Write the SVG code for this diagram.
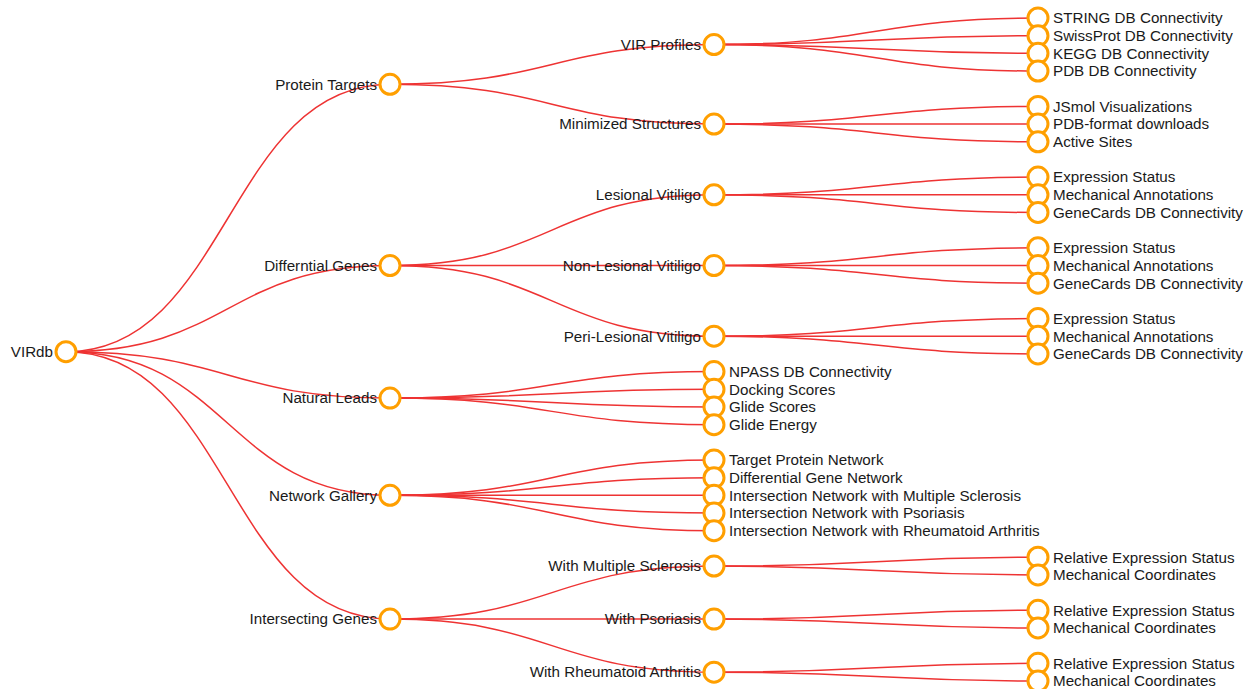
<svg xmlns="http://www.w3.org/2000/svg" width="1249" height="689" viewBox="0 0 1249 689">
<style>
.link{fill:none;stroke:#ee3333;stroke-width:1.5}
.node circle{fill:#fff;stroke:#ff9f00;stroke-width:3}
.node text{font-family:"Liberation Sans",Arial,sans-serif;font-size:15.2px;fill:#1a1a1a}
.p text{text-anchor:end}
</style>
<rect width="1249" height="689" fill="#fff"/>
<g id="links">
<path class="link" d="M66,351.71C228,351.71 228,84.3 390,84.3"/>
<path class="link" d="M66,351.71C228,351.71 228,265.52 390,265.52"/>
<path class="link" d="M66,351.71C228,351.71 228,398.12 390,398.12"/>
<path class="link" d="M66,351.71C228,351.71 228,495.36 390,495.36"/>
<path class="link" d="M66,351.71C228,351.71 228,619.12 390,619.12"/>
<path class="link" d="M390,84.3C552,84.3 552,44.52 714,44.52"/>
<path class="link" d="M390,84.3C552,84.3 552,124.08 714,124.08"/>
<path class="link" d="M390,265.52C552,265.52 552,194.8 714,194.8"/>
<path class="link" d="M390,265.52C552,265.52 552,265.52 714,265.52"/>
<path class="link" d="M390,265.52C552,265.52 552,336.24 714,336.24"/>
<path class="link" d="M390,398.12C552,398.12 552,371.6 714,371.6"/>
<path class="link" d="M390,398.12C552,398.12 552,389.28 714,389.28"/>
<path class="link" d="M390,398.12C552,398.12 552,406.96 714,406.96"/>
<path class="link" d="M390,398.12C552,398.12 552,424.64 714,424.64"/>
<path class="link" d="M390,495.36C552,495.36 552,460 714,460"/>
<path class="link" d="M390,495.36C552,495.36 552,477.68 714,477.68"/>
<path class="link" d="M390,495.36C552,495.36 552,495.36 714,495.36"/>
<path class="link" d="M390,495.36C552,495.36 552,513.04 714,513.04"/>
<path class="link" d="M390,495.36C552,495.36 552,530.72 714,530.72"/>
<path class="link" d="M390,619.12C552,619.12 552,566.08 714,566.08"/>
<path class="link" d="M390,619.12C552,619.12 552,619.12 714,619.12"/>
<path class="link" d="M390,619.12C552,619.12 552,672.16 714,672.16"/>
<path class="link" d="M714,44.52C876,44.52 876,18 1038,18"/>
<path class="link" d="M714,44.52C876,44.52 876,35.68 1038,35.68"/>
<path class="link" d="M714,44.52C876,44.52 876,53.36 1038,53.36"/>
<path class="link" d="M714,44.52C876,44.52 876,71.04 1038,71.04"/>
<path class="link" d="M714,124.08C876,124.08 876,106.4 1038,106.4"/>
<path class="link" d="M714,124.08C876,124.08 876,124.08 1038,124.08"/>
<path class="link" d="M714,124.08C876,124.08 876,141.76 1038,141.76"/>
<path class="link" d="M714,194.8C876,194.8 876,177.12 1038,177.12"/>
<path class="link" d="M714,194.8C876,194.8 876,194.8 1038,194.8"/>
<path class="link" d="M714,194.8C876,194.8 876,212.48 1038,212.48"/>
<path class="link" d="M714,265.52C876,265.52 876,247.84 1038,247.84"/>
<path class="link" d="M714,265.52C876,265.52 876,265.52 1038,265.52"/>
<path class="link" d="M714,265.52C876,265.52 876,283.2 1038,283.2"/>
<path class="link" d="M714,336.24C876,336.24 876,318.56 1038,318.56"/>
<path class="link" d="M714,336.24C876,336.24 876,336.24 1038,336.24"/>
<path class="link" d="M714,336.24C876,336.24 876,353.92 1038,353.92"/>
<path class="link" d="M714,566.08C876,566.08 876,557.24 1038,557.24"/>
<path class="link" d="M714,566.08C876,566.08 876,574.92 1038,574.92"/>
<path class="link" d="M714,619.12C876,619.12 876,610.28 1038,610.28"/>
<path class="link" d="M714,619.12C876,619.12 876,627.96 1038,627.96"/>
<path class="link" d="M714,672.16C876,672.16 876,663.32 1038,663.32"/>
<path class="link" d="M714,672.16C876,672.16 876,681 1038,681"/>
</g>
<g id="n-virdb" class="node p" transform="translate(66,351.71)"><circle r="10"/><text x="-13" dy="0.35em">VIRdb</text></g>
<g id="n-protein-targets" class="node p" transform="translate(390,84.3)"><circle r="10"/><text x="-13" dy="0.35em">Protein Targets</text></g>
<g id="n-differntial-genes" class="node p" transform="translate(390,265.52)"><circle r="10"/><text x="-13" dy="0.35em">Differntial Genes</text></g>
<g id="n-natural-leads" class="node p" transform="translate(390,398.12)"><circle r="10"/><text x="-13" dy="0.35em">Natural Leads</text></g>
<g id="n-network-gallery" class="node p" transform="translate(390,495.36)"><circle r="10"/><text x="-13" dy="0.35em">Network Gallery</text></g>
<g id="n-intersecting-genes" class="node p" transform="translate(390,619.12)"><circle r="10"/><text x="-13" dy="0.35em">Intersecting Genes</text></g>
<g id="n-vir-profiles" class="node p" transform="translate(714,44.52)"><circle r="10"/><text x="-13" dy="0.35em">VIR Profiles</text></g>
<g id="n-minimized-structures" class="node p" transform="translate(714,124.08)"><circle r="10"/><text x="-13" dy="0.35em">Minimized Structures</text></g>
<g id="n-lesional" class="node p" transform="translate(714,194.8)"><circle r="10"/><text x="-13" dy="0.35em">Lesional Vitiligo</text></g>
<g id="n-non-lesional" class="node p" transform="translate(714,265.52)"><circle r="10"/><text x="-13" dy="0.35em">Non-Lesional Vitiligo</text></g>
<g id="n-peri-lesional" class="node p" transform="translate(714,336.24)"><circle r="10"/><text x="-13" dy="0.35em">Peri-Lesional Vitiligo</text></g>
<g id="n-npass" class="node" transform="translate(714,371.6)"><circle r="10"/><text x="15" dy="0.35em">NPASS DB Connectivity</text></g>
<g id="n-docking" class="node" transform="translate(714,389.28)"><circle r="10"/><text x="15" dy="0.35em">Docking Scores</text></g>
<g id="n-glide-scores" class="node" transform="translate(714,406.96)"><circle r="10"/><text x="15" dy="0.35em">Glide Scores</text></g>
<g id="n-glide-energy" class="node" transform="translate(714,424.64)"><circle r="10"/><text x="15" dy="0.35em">Glide Energy</text></g>
<g id="n-tpn" class="node" transform="translate(714,460)"><circle r="10"/><text x="15" dy="0.35em">Target Protein Network</text></g>
<g id="n-dgn" class="node" transform="translate(714,477.68)"><circle r="10"/><text x="15" dy="0.35em">Differential Gene Network</text></g>
<g id="n-inms" class="node" transform="translate(714,495.36)"><circle r="10"/><text x="15" dy="0.35em">Intersection Network with Multiple Sclerosis</text></g>
<g id="n-inps" class="node" transform="translate(714,513.04)"><circle r="10"/><text x="15" dy="0.35em">Intersection Network with Psoriasis</text></g>
<g id="n-inra" class="node" transform="translate(714,530.72)"><circle r="10"/><text x="15" dy="0.35em">Intersection Network with Rheumatoid Arthritis</text></g>
<g id="n-ms" class="node p" transform="translate(714,566.08)"><circle r="10"/><text x="-13" dy="0.35em">With Multiple Sclerosis</text></g>
<g id="n-ps" class="node p" transform="translate(714,619.12)"><circle r="10"/><text x="-13" dy="0.35em">With Psoriasis</text></g>
<g id="n-ra" class="node p" transform="translate(714,672.16)"><circle r="10"/><text x="-13" dy="0.35em">With Rheumatoid Arthritis</text></g>
<g id="n-string" class="node" transform="translate(1038,18)"><circle r="10"/><text x="15" dy="0.35em">STRING DB Connectivity</text></g>
<g id="n-swissprot" class="node" transform="translate(1038,35.68)"><circle r="10"/><text x="15" dy="0.35em">SwissProt DB Connectivity</text></g>
<g id="n-kegg" class="node" transform="translate(1038,53.36)"><circle r="10"/><text x="15" dy="0.35em">KEGG DB Connectivity</text></g>
<g id="n-pdb" class="node" transform="translate(1038,71.04)"><circle r="10"/><text x="15" dy="0.35em">PDB DB Connectivity</text></g>
<g id="n-jsmol" class="node" transform="translate(1038,106.4)"><circle r="10"/><text x="15" dy="0.35em">JSmol Visualizations</text></g>
<g id="n-pdb-format" class="node" transform="translate(1038,124.08)"><circle r="10"/><text x="15" dy="0.35em">PDB-format downloads</text></g>
<g id="n-active-sites" class="node" transform="translate(1038,141.76)"><circle r="10"/><text x="15" dy="0.35em">Active Sites</text></g>
<g id="n-l-expr" class="node" transform="translate(1038,177.12)"><circle r="10"/><text x="15" dy="0.35em">Expression Status</text></g>
<g id="n-l-mech" class="node" transform="translate(1038,194.8)"><circle r="10"/><text x="15" dy="0.35em">Mechanical Annotations</text></g>
<g id="n-l-gc" class="node" transform="translate(1038,212.48)"><circle r="10"/><text x="15" dy="0.35em">GeneCards DB Connectivity</text></g>
<g id="n-nl-expr" class="node" transform="translate(1038,247.84)"><circle r="10"/><text x="15" dy="0.35em">Expression Status</text></g>
<g id="n-nl-mech" class="node" transform="translate(1038,265.52)"><circle r="10"/><text x="15" dy="0.35em">Mechanical Annotations</text></g>
<g id="n-nl-gc" class="node" transform="translate(1038,283.2)"><circle r="10"/><text x="15" dy="0.35em">GeneCards DB Connectivity</text></g>
<g id="n-pl-expr" class="node" transform="translate(1038,318.56)"><circle r="10"/><text x="15" dy="0.35em">Expression Status</text></g>
<g id="n-pl-mech" class="node" transform="translate(1038,336.24)"><circle r="10"/><text x="15" dy="0.35em">Mechanical Annotations</text></g>
<g id="n-pl-gc" class="node" transform="translate(1038,353.92)"><circle r="10"/><text x="15" dy="0.35em">GeneCards DB Connectivity</text></g>
<g id="n-ms-rel" class="node" transform="translate(1038,557.24)"><circle r="10"/><text x="15" dy="0.35em">Relative Expression Status</text></g>
<g id="n-ms-mech" class="node" transform="translate(1038,574.92)"><circle r="10"/><text x="15" dy="0.35em">Mechanical Coordinates</text></g>
<g id="n-ps-rel" class="node" transform="translate(1038,610.28)"><circle r="10"/><text x="15" dy="0.35em">Relative Expression Status</text></g>
<g id="n-ps-mech" class="node" transform="translate(1038,627.96)"><circle r="10"/><text x="15" dy="0.35em">Mechanical Coordinates</text></g>
<g id="n-ra-rel" class="node" transform="translate(1038,663.32)"><circle r="10"/><text x="15" dy="0.35em">Relative Expression Status</text></g>
<g id="n-ra-mech" class="node" transform="translate(1038,681)"><circle r="10"/><text x="15" dy="0.35em">Mechanical Coordinates</text></g>
</svg>
